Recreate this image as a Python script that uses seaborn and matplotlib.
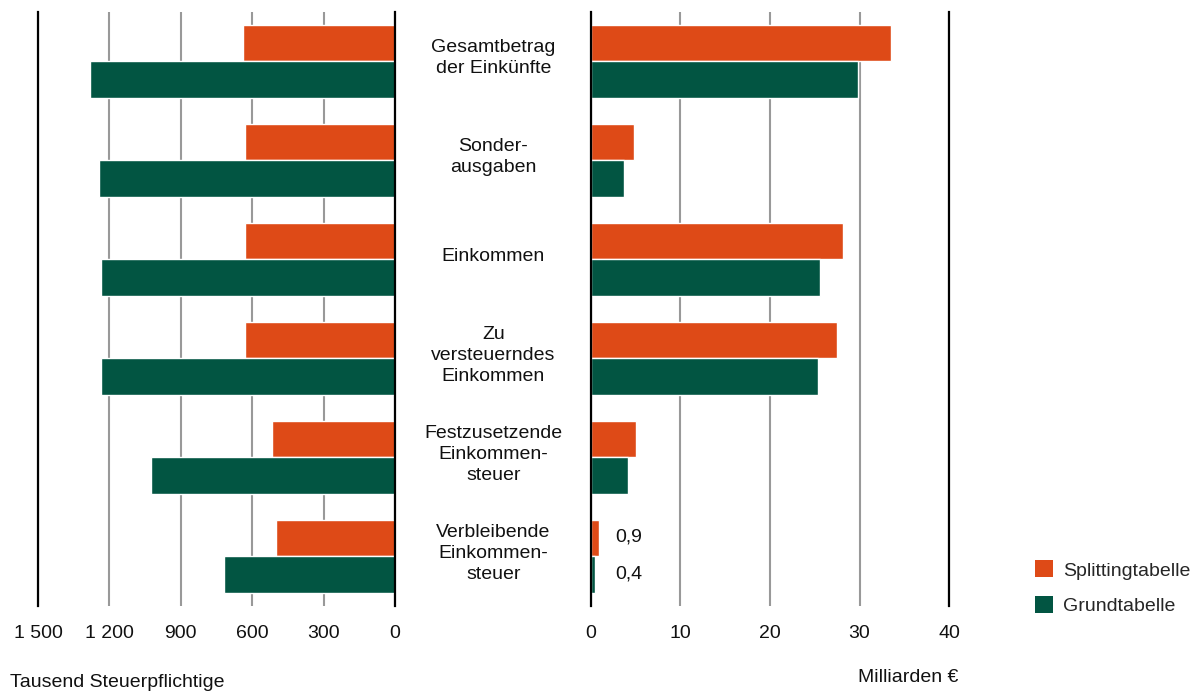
import matplotlib
matplotlib.use('Agg')
import matplotlib.pyplot as plt
import matplotlib.transforms as mtransforms
from matplotlib.patches import Patch
import seaborn as sns
import pandas as pd

# Data
categories = ['Gesamtbetrag\nder Einkünfte', 'Sonder-\nausgaben', 'Einkommen',
              'Zu\nversteuerndes\nEinkommen', 'Festzusetzende\nEinkommen-\nsteuer',
              'Verbleibende\nEinkommen-\nsteuer']
series = ['Splittingtabelle', 'Grundtabelle']
pflichtige_splitting = [639, 630, 630, 630, 517, 500]      # Tausend Steuerpflichtige
pflichtige_grund = [1281, 1244, 1235, 1235, 1025, 718]
betrag_splitting = [33.5, 4.8, 28.2, 27.5, 5.0, 0.9]       # Milliarden €
betrag_grund = [29.8, 3.7, 25.6, 25.4, 4.1, 0.4]
left_ticks = [1500, 1200, 900, 600, 300, 0]
left_ticklabels = ['1 500', '1 200', '900', '600', '300', '0']
right_ticks = [0, 10, 20, 30, 40]
value_labels = ['0,9', '0,4']

colors = {'Splittingtabelle': '#DE4A17', 'Grundtabelle': '#025542'}

sns.set_style('white')
plt.rcParams['font.family'] = ['Liberation Sans', 'DejaVu Sans']
plt.rcParams['font.size'] = 14


def long_table(splitting, grund):
    return pd.DataFrame({
        'Kategorie': categories * 2,
        'Tabelle': [series[0]] * len(categories) + [series[1]] * len(categories),
        'Wert': list(splitting) + list(grund),
    })


df_left = long_table(pflichtige_splitting, pflichtige_grund)
df_right = long_table(betrag_splitting, betrag_grund)

fig = plt.figure(figsize=(11.99, 6.98), dpi=100)
ax_l = fig.add_axes([0.0317, 0.132, 0.2977, 0.851])
ax_r = fig.add_axes([0.4929, 0.132, 0.2986, 0.851])

for ax, df in [(ax_l, df_left), (ax_r, df_right)]:
    sns.barplot(data=df, x='Wert', y='Kategorie', hue='Tabelle', hue_order=series,
                palette=colors, saturation=1, orient='h', width=0.74,
                edgecolor='white', linewidth=1, legend=False, ax=ax)
    ax.set_ylim(len(categories) - 0.5, -0.5)
    ax.set_yticks([])
    ax.set_xlabel('')
    ax.set_ylabel('')
    ax.grid(axis='x', color='#999999', linewidth=1.5)
    ax.set_axisbelow(True)
    for side in ['top', 'bottom']:
        ax.spines[side].set_visible(False)
    for side in ['left', 'right']:
        ax.spines[side].set_color('black')
        ax.spines[side].set_linewidth(1.6)
    ax.tick_params(axis='x', length=0, pad=14, labelsize=14, colors='#111111')

ax_l.set_xlim(1500, 0)
ax_l.set_xticks(left_ticks)
ax_l.set_xticklabels(left_ticklabels)
ax_r.set_xlim(0, 40)
ax_r.set_xticks(right_ticks)

# category labels between the two panels
trans = mtransforms.blended_transform_factory(fig.transFigure, ax_r.transData)
for i, cat in enumerate(categories):
    fig.text(0.4115, i - 0.03, cat, transform=trans, ha='center', va='center',
             fontsize=14, linespacing=1.3, color='#111111')

# small values on the last group
last = len(categories) - 1
ax_r.text(2.7, last - 0.2, value_labels[0], ha='left', va='center', fontsize=14, color='#111111')
ax_r.text(2.7, last + 0.18, value_labels[1], ha='left', va='center', fontsize=14, color='#111111')

fig.text(0.0083, 0.022, 'Tausend Steuerpflichtige', ha='left', va='center', fontsize=14, color='#111111')
fig.text(0.7157, 0.030, 'Milliarden €', ha='left', va='center', fontsize=14, color='#111111')

handles = [Patch(facecolor=colors[s], edgecolor='none', label=s) for s in series]
fig.legend(handles=handles, loc='upper left', bbox_to_anchor=(0.855, 0.211),
           frameon=False, borderpad=0, handlelength=0.95, handleheight=0.95,
           handletextpad=0.5, labelspacing=0.85, fontsize=14)

fig.savefig('out.png', dpi=100)
